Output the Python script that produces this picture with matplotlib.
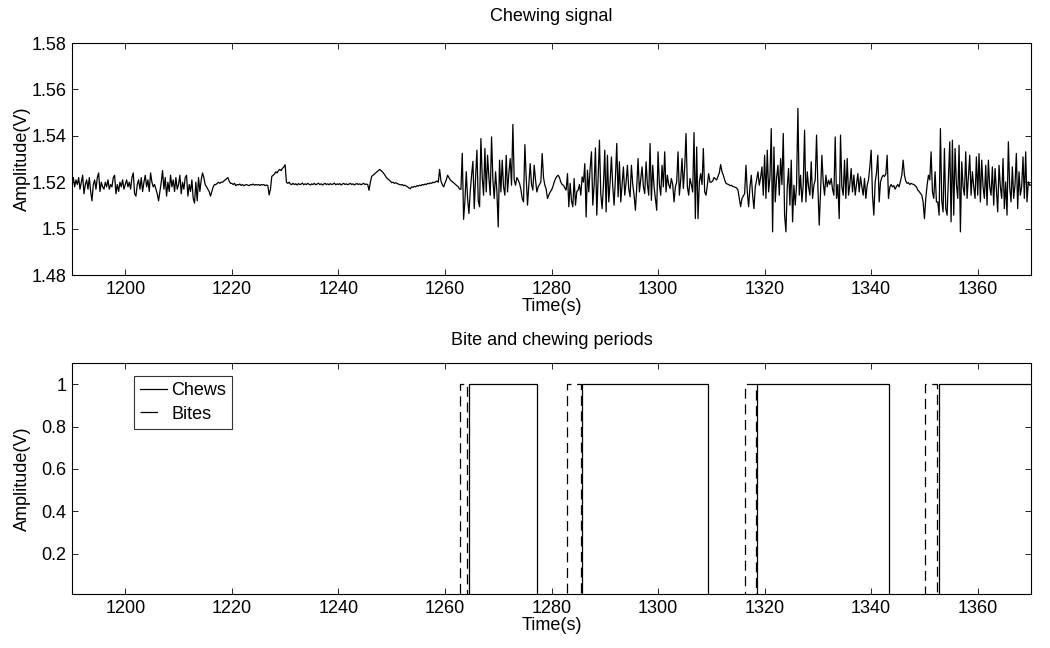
import numpy as np
import matplotlib
matplotlib.use("Agg")
import matplotlib.pyplot as plt
from matplotlib.lines import Line2D

plt.rcParams['font.family'] = ['Liberation Sans', 'DejaVu Sans']

# ---- data ----
t_start = 1190.0
dt = 0.25  # seconds between samples

sig_1190 = [1.520, 1.522, 1.518, 1.521, 1.519, 1.522, 1.517, 1.520, 1.523, 1.515, 1.519, 1.521, 1.517, 1.522, 1.516, 1.512, 1.519, 1.521, 1.517, 1.522,
            1.524, 1.516, 1.520, 1.518, 1.517, 1.520, 1.518, 1.521, 1.517, 1.519, 1.518, 1.522, 1.523, 1.515, 1.519, 1.516, 1.520, 1.518, 1.521, 1.517,
            1.519, 1.521, 1.518, 1.520, 1.517, 1.522, 1.524, 1.515, 1.514, 1.519, 1.521, 1.517, 1.522, 1.516, 1.520, 1.523, 1.518, 1.521, 1.516, 1.524,
            1.520, 1.518, 1.519, 1.517, 1.515, 1.512, 1.516, 1.520, 1.525, 1.517, 1.522, 1.514, 1.520, 1.516, 1.523, 1.518, 1.521, 1.516, 1.522, 1.517,
            1.519, 1.523, 1.515, 1.520, 1.517, 1.522, 1.523, 1.514, 1.519, 1.516, 1.521, 1.513, 1.511, 1.520, 1.512, 1.522, 1.516, 1.521, 1.524, 1.522,
            1.519, 1.518, 1.517, 1.516, 1.514, 1.516, 1.518, 1.519, 1.519, 1.5195, 1.520, 1.5195, 1.520, 1.520, 1.5205, 1.521, 1.5215, 1.522, 1.5205, 1.5195]

sig_1220 = [1.5195, 1.519, 1.5195, 1.5185, 1.519, 1.5188, 1.5192, 1.5186, 1.519, 1.5185, 1.5188, 1.519, 1.5187, 1.5185, 1.519, 1.5188, 1.5192, 1.5187, 1.519, 1.5188,
            1.519, 1.5186, 1.519, 1.5188, 1.519, 1.5185, 1.5188, 1.5186, 1.5145, 1.517, 1.5225, 1.523, 1.5235, 1.5245, 1.524, 1.525, 1.5255, 1.525, 1.526, 1.5265,
            1.5275, 1.520, 1.5195, 1.520, 1.5192, 1.519, 1.5195, 1.519, 1.5193, 1.5188, 1.5194, 1.519, 1.5192, 1.5196, 1.5189, 1.5193, 1.519, 1.5195, 1.5191, 1.5188,
            1.5193, 1.519, 1.5195, 1.5189, 1.5192, 1.5196, 1.519, 1.5193, 1.5188, 1.5192, 1.5195, 1.519, 1.5193, 1.5189, 1.5194, 1.519, 1.5192, 1.5196, 1.5189, 1.5193,
            1.519, 1.5194, 1.5188, 1.5192, 1.5195, 1.519, 1.5193, 1.5189, 1.5192, 1.5195, 1.519, 1.5193, 1.5188, 1.5192, 1.5194, 1.519, 1.5193, 1.5189, 1.5192, 1.5195,
            1.519, 1.5192, 1.519, 1.5165, 1.520, 1.5225, 1.523, 1.5235, 1.524, 1.5245, 1.525, 1.5255, 1.525, 1.5245, 1.5238, 1.523, 1.522, 1.5215, 1.521, 1.5205]

sig_1250 = [1.5198, 1.520, 1.5195, 1.5198, 1.5195, 1.5192, 1.519, 1.5188, 1.519, 1.5185, 1.5187, 1.5183, 1.518, 1.5175, 1.5172, 1.518, 1.5178, 1.5182, 1.518, 1.5185,
            1.5183, 1.5187, 1.5185, 1.519, 1.5188, 1.5192, 1.519, 1.5195, 1.5193, 1.5197, 1.5195, 1.520, 1.5198, 1.5202, 1.5205, 1.520, 1.5255, 1.5205, 1.519, 1.518,
            1.5195, 1.521, 1.523, 1.522, 1.521, 1.5205, 1.520, 1.5195, 1.519, 1.5185, 1.518, 1.517, 1.517, 1.5325, 1.504, 1.512, 1.5245, 1.513, 1.5065, 1.516,
            1.523, 1.529, 1.5086, 1.522, 1.5338, 1.512, 1.5094, 1.5388, 1.522, 1.5144, 1.5345, 1.5158, 1.5316, 1.522, 1.5144, 1.5395, 1.521, 1.513, 1.5245, 1.516,
            1.5007, 1.5295, 1.5158, 1.5295, 1.518, 1.5144, 1.5316, 1.5158, 1.524, 1.5302, 1.5187, 1.5449, 1.521, 1.5187, 1.522, 1.5209, 1.5195, 1.517, 1.513, 1.5115,
            1.5362, 1.522, 1.5101, 1.5187, 1.528, 1.519, 1.5166, 1.5273, 1.521, 1.5158, 1.518, 1.519, 1.5201, 1.5324, 1.522, 1.5187, 1.517, 1.513, 1.5145, 1.5158]

sig_1280 = [1.5166, 1.518, 1.520, 1.5215, 1.5225, 1.523, 1.522, 1.520, 1.519, 1.5187, 1.5175, 1.5166, 1.5237, 1.5094, 1.5195, 1.512, 1.5094, 1.5216, 1.5101, 1.516,
            1.5166, 1.519, 1.5144, 1.5223, 1.520, 1.528, 1.505, 1.5252, 1.5158, 1.526, 1.5331, 1.5101, 1.5187, 1.5348, 1.5058, 1.522, 1.5381, 1.515, 1.5086, 1.5187,
            1.5338, 1.5072, 1.5316, 1.5115, 1.520, 1.5309, 1.518, 1.5101, 1.522, 1.5367, 1.5137, 1.5288, 1.5115, 1.519, 1.5266, 1.5144, 1.520, 1.5273, 1.517, 1.5137,
            1.5273, 1.519, 1.5144, 1.5079, 1.518, 1.5302, 1.5158, 1.521, 1.5266, 1.518, 1.5151, 1.5288, 1.519, 1.5144, 1.5367, 1.5122, 1.5273, 1.518, 1.513, 1.5079,
            1.5331, 1.519, 1.5144, 1.5273, 1.518, 1.5331, 1.5158, 1.523, 1.519, 1.5173, 1.5216, 1.519, 1.5115, 1.518, 1.5201, 1.5331, 1.5144, 1.521, 1.5302, 1.5173,
            1.5266, 1.541, 1.518, 1.5144, 1.5216, 1.519, 1.5158, 1.5414, 1.5043, 1.5352, 1.5043, 1.5201, 1.5237, 1.519, 1.5345, 1.5158, 1.5144, 1.5187, 1.5237, 1.520]

sig_1310 = [1.520, 1.5205, 1.522, 1.5215, 1.521, 1.5225, 1.524, 1.5276, 1.5245, 1.523, 1.521, 1.5195, 1.5192, 1.519, 1.5185, 1.5187, 1.5182, 1.518, 1.5178, 1.5175,
            1.5166, 1.513, 1.5094, 1.513, 1.514, 1.5151, 1.5273, 1.5158, 1.5094, 1.518, 1.523, 1.5144, 1.5086, 1.518, 1.521, 1.5245, 1.5187, 1.522, 1.5266, 1.5144,
            1.5316, 1.513, 1.5338, 1.5158, 1.522, 1.5431, 1.4986, 1.5352, 1.5115, 1.522, 1.5273, 1.5144, 1.5302, 1.519, 1.541, 1.5058, 1.4986, 1.518, 1.5259, 1.5101,
            1.5295, 1.5029, 1.5187, 1.5101, 1.519, 1.5518, 1.5144, 1.523, 1.5115, 1.519, 1.5424, 1.5115, 1.5245, 1.518, 1.5144, 1.5288, 1.513, 1.5187, 1.521, 1.5403,
            1.518, 1.5015, 1.5158, 1.5316, 1.520, 1.5144, 1.523, 1.518, 1.5209, 1.519, 1.5216, 1.517, 1.5144, 1.5395, 1.513, 1.519, 1.5043, 1.5403, 1.518, 1.5144,
            1.5295, 1.513, 1.5302, 1.5144, 1.519, 1.5259, 1.5158, 1.523, 1.5144, 1.519, 1.5237, 1.5158, 1.5223, 1.518, 1.5144, 1.5216, 1.513, 1.5187, 1.521, 1.5266]

sig_1340 = [1.5338, 1.5144, 1.5058, 1.5201, 1.524, 1.5316, 1.5115, 1.5201, 1.522, 1.523, 1.5225, 1.5235, 1.5316, 1.513, 1.518, 1.519, 1.518, 1.5185, 1.517, 1.5182,
            1.519, 1.518, 1.5205, 1.523, 1.5295, 1.523, 1.5205, 1.5195, 1.5198, 1.519, 1.5195, 1.5192, 1.519, 1.5185, 1.518, 1.5166, 1.516, 1.5152, 1.5144, 1.5115,
            1.5043, 1.513, 1.5187, 1.523, 1.521, 1.5331, 1.5158, 1.513, 1.5245, 1.5115, 1.5115, 1.5058, 1.5431, 1.512, 1.5072, 1.5345, 1.5086, 1.5058, 1.522, 1.5374,
            1.5029, 1.5381, 1.5058, 1.5345, 1.519, 1.513, 1.5359, 1.4986, 1.5288, 1.518, 1.5144, 1.5331, 1.513, 1.522, 1.5316, 1.5144, 1.5245, 1.518, 1.513, 1.5309,
            1.5144, 1.5323, 1.5115, 1.5295, 1.518, 1.513, 1.5273, 1.5101, 1.5295, 1.518, 1.5144, 1.5266, 1.5101, 1.5259, 1.517, 1.5072, 1.5273, 1.518, 1.513, 1.5302,
            1.5086, 1.5201, 1.5058, 1.5374, 1.518, 1.5115, 1.5266, 1.513, 1.519, 1.5324, 1.5086, 1.5245, 1.5144, 1.518, 1.5309, 1.513, 1.5331, 1.5115, 1.5201, 1.5187,
            1.5187]

chew_starts = [1264.5, 1285.7, 1318.5, 1352.7]
chew_ends = [1277.2, 1309.3, 1343.3, 1371.0]
bite_starts = [1262.9, 1283.0, 1316.4, 1350.1]
bite_ends = [1264.2, 1285.6, 1318.4, 1352.4]

x_ticks = [1200, 1220, 1240, 1260, 1280, 1300, 1320, 1340, 1360]
top_yticks = [1.48, 1.50, 1.52, 1.54, 1.56, 1.58]
top_ylabels = ['1.48', '1.5', '1.52', '1.54', '1.56', '1.58']
bot_yticks = [0.2, 0.4, 0.6, 0.8, 1.0]
bot_ylabels = ['0.2', '0.4', '0.6', '0.8', '1']

# ---- build series ----
signal = np.array(sig_1190 + sig_1220 + sig_1250 + sig_1280 + sig_1310 + sig_1340)
t = t_start + dt * np.arange(len(signal))


def step_series(starts, ends, x0, x1):
    xs, ys = [x0], [0]
    for s, e in zip(starts, ends):
        xs += [s, s, e, e]
        ys += [0, 1, 1, 0]
    xs.append(x1)
    ys.append(0)
    return np.array(xs), np.array(ys)


chew_x, chew_y = step_series(chew_starts, chew_ends, 1190, 1372)
bite_x, bite_y = step_series(bite_starts, bite_ends, 1190, 1372)

# ---- figure ----
fig = plt.figure(figsize=(10.5, 6.48), dpi=100)
W, H = 1050, 648
ax1 = fig.add_axes([72 / W, 1 - 275 / H, (1031 - 72) / W, (275 - 43) / H])
ax2 = fig.add_axes([72 / W, 1 - 594 / H, (1031 - 72) / W, (594 - 363) / H])

FS = 13
LW = 0.9
DASH = (8, 4.5)

ax1.plot(t, signal, color='black', lw=LW)
ax1.set_xlim(1190, 1370)
ax1.set_ylim(1.48, 1.58)
ax1.set_yticks(top_yticks)
ax1.set_yticklabels(top_ylabels)
ax1.set_title('Chewing signal', fontsize=FS, pad=16)
ax1.set_ylabel('Amplitude(V)', fontsize=FS)
ax1.set_xlabel('Time(s)', fontsize=FS, labelpad=0.5)

ax2.plot(chew_x, chew_y, color='black', lw=LW)
ax2.plot(bite_x, bite_y, color='black', lw=LW, dashes=DASH)
ax2.set_xlim(1190, 1370)
ax2.set_ylim(0.01, 1.1)
ax2.set_yticks(bot_yticks)
ax2.set_yticklabels(bot_ylabels)
ax2.set_title('Bite and chewing periods', fontsize=FS, pad=13)
ax2.set_ylabel('Amplitude(V)', fontsize=FS)
ax2.set_xlabel('Time(s)', fontsize=FS, labelpad=0.5)

for ax in (ax1, ax2):
    ax.yaxis.set_label_coords(-0.043, 0.5)

handles = [Line2D([], [], color='black', lw=LW),
           Line2D([], [], color='black', lw=LW, dashes=(14, 30))]
leg = ax2.legend(handles, ['Chews', 'Bites'], loc='upper left',
                 bbox_to_anchor=(0.0647, 0.944), fontsize=FS,
                 frameon=True, fancybox=False, handlelength=1.5, handletextpad=0.2,
                 borderpad=0.35, labelspacing=0.35, borderaxespad=0)
leg.get_frame().set_edgecolor('black')
leg.get_frame().set_linewidth(0.8)

for ax in (ax1, ax2):
    ax.set_xticks(x_ticks)
    ax.tick_params(direction='in', length=4, width=0.6, top=True, right=True,
                   labelsize=FS, pad=4, color='black')
    for sp in ax.spines.values():
        sp.set_linewidth(0.8)
        sp.set_color('black')

fig.savefig('out.png', dpi=100, facecolor='white')
